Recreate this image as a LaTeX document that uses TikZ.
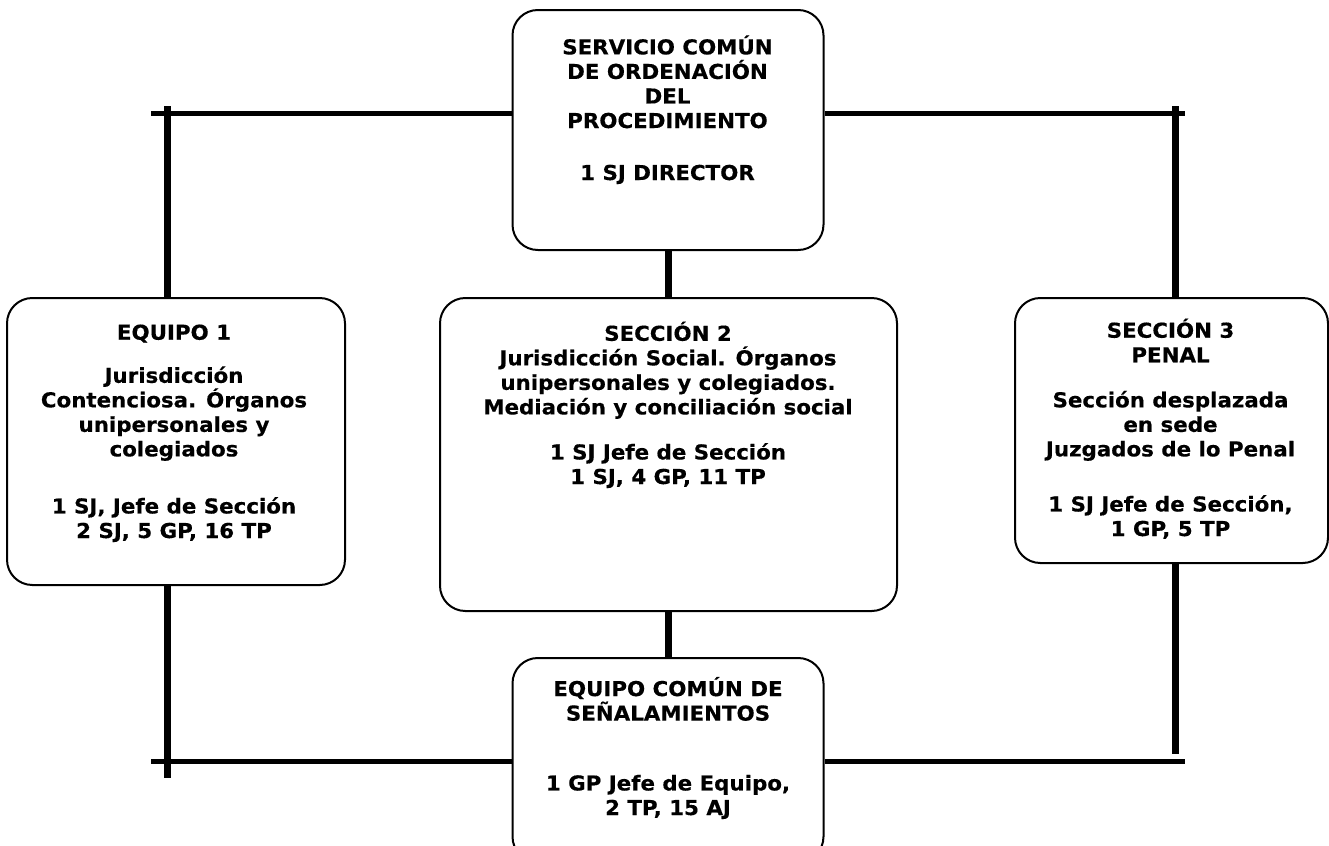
\documentclass[tikz,border=0pt]{standalone}
\usepackage{fontspec}
\setmainfont{DejaVu Sans}[FakeStretch=1.04, BoldFeatures={FakeBold=0.4}]
\usetikzlibrary{positioning}

\begin{document}
\begin{tikzpicture}[x=0.75pt, y=-0.75pt,
    caja/.style={draw, line width=1.5pt, rounded corners=19pt, inner sep=0pt},
    texto/.style={align=center, inner sep=0pt, anchor=base, font=\bfseries\fontsize{15.4}{18.4}\selectfont},
    linea/.style={line width=3.75pt},
    poste/.style={line width=5.25pt}]
    \useasboundingbox (0,0) rectangle (1329,846);

    % cajas
    \node[caja, minimum width=233.25pt, minimum height=180pt] (servicio) at (668,130) {};
    \node[caja, minimum width=253.5pt, minimum height=215.25pt] (equipo) at (176,441.5) {};
    \node[caja, minimum width=342.75pt, minimum height=234.75pt] (seccion2) at (668.5,454.5) {};
    \node[caja, minimum width=234.75pt, minimum height=198.75pt] (seccion3) at (1171.5,430.5) {};
    \node[caja, minimum width=233.25pt, minimum height=153pt] (senal) at (668,760) {};

    % textos (anclados en la base de la ultima linea)
    \node[texto] (tservicio) at (667.5,180) {SERVICIO COMÚN\\DE ORDENACIÓN\\DEL\\PROCEDIMIENTO\\[20.6pt]1 SJ DIRECTOR};
    \node[texto] (tequipo) at (174,538) {EQUIPO 1\\[13.9pt]Jurisdicción\\Contenciosa. Órganos\\unipersonales y\\colegiados\\[24.4pt]1 SJ, Jefe de Sección\\2 SJ, 5 GP, 16 TP};
    \node[texto] (tseccion2) at (668,484) {SECCIÓN 2\\Jurisdicción Social. Órganos\\unipersonales y colegiados.\\Mediación y conciliación social\\[15.4pt]1 SJ Jefe de Sección\\1 SJ, 4 GP, 11 TP};
    \node[texto] (tseccion3) at (1170.5,536) {SECCIÓN 3\\PENAL\\[15.4pt]Sección desplazada\\en sede\\Juzgados de lo Penal\\[22.9pt]1 SJ Jefe de Sección,\\1 GP, 5 TP};
    \node[texto] (tsenal) at (668,815) {EQUIPO COMÚN DE\\SEÑALAMIENTOS\\[34pt]1 GP Jefe de Equipo,\\2 TP, 15 AJ};

    % extremos libres
    \coordinate (arribaizq) at (151,113);
    \coordinate (arribader) at (1185,113);
    \coordinate (abajoizq) at (151,761);
    \coordinate (abajoder) at (1185,761);
    \coordinate (ptizq) at (167,106);
    \coordinate (pbizq) at (167,778);
    \coordinate (ptder) at (1175,106);
    \coordinate (pbder) at (1175,754);

    % conexiones
    \draw[linea] (arribaizq) -- (arribaizq -| servicio.west);
    \draw[linea] (servicio.east |- arribader) -- (arribader);
    \draw[linea] (abajoizq) -- (abajoizq -| senal.west);
    \draw[linea] (senal.east |- abajoder) -- (abajoder);
    \draw[poste] (ptizq) -- (ptizq |- equipo.north);
    \draw[poste] (equipo.south -| pbizq) -- (pbizq);
    \draw[poste] (ptder) -- (ptder |- seccion3.north);
    \draw[poste] (seccion3.south -| pbder) -- (pbder);
    \draw[poste] (servicio.south) -- (seccion2.north -| servicio.south);
    \draw[poste] (seccion2.south -| senal.north) -- (senal.north);
\end{tikzpicture}
\end{document}
